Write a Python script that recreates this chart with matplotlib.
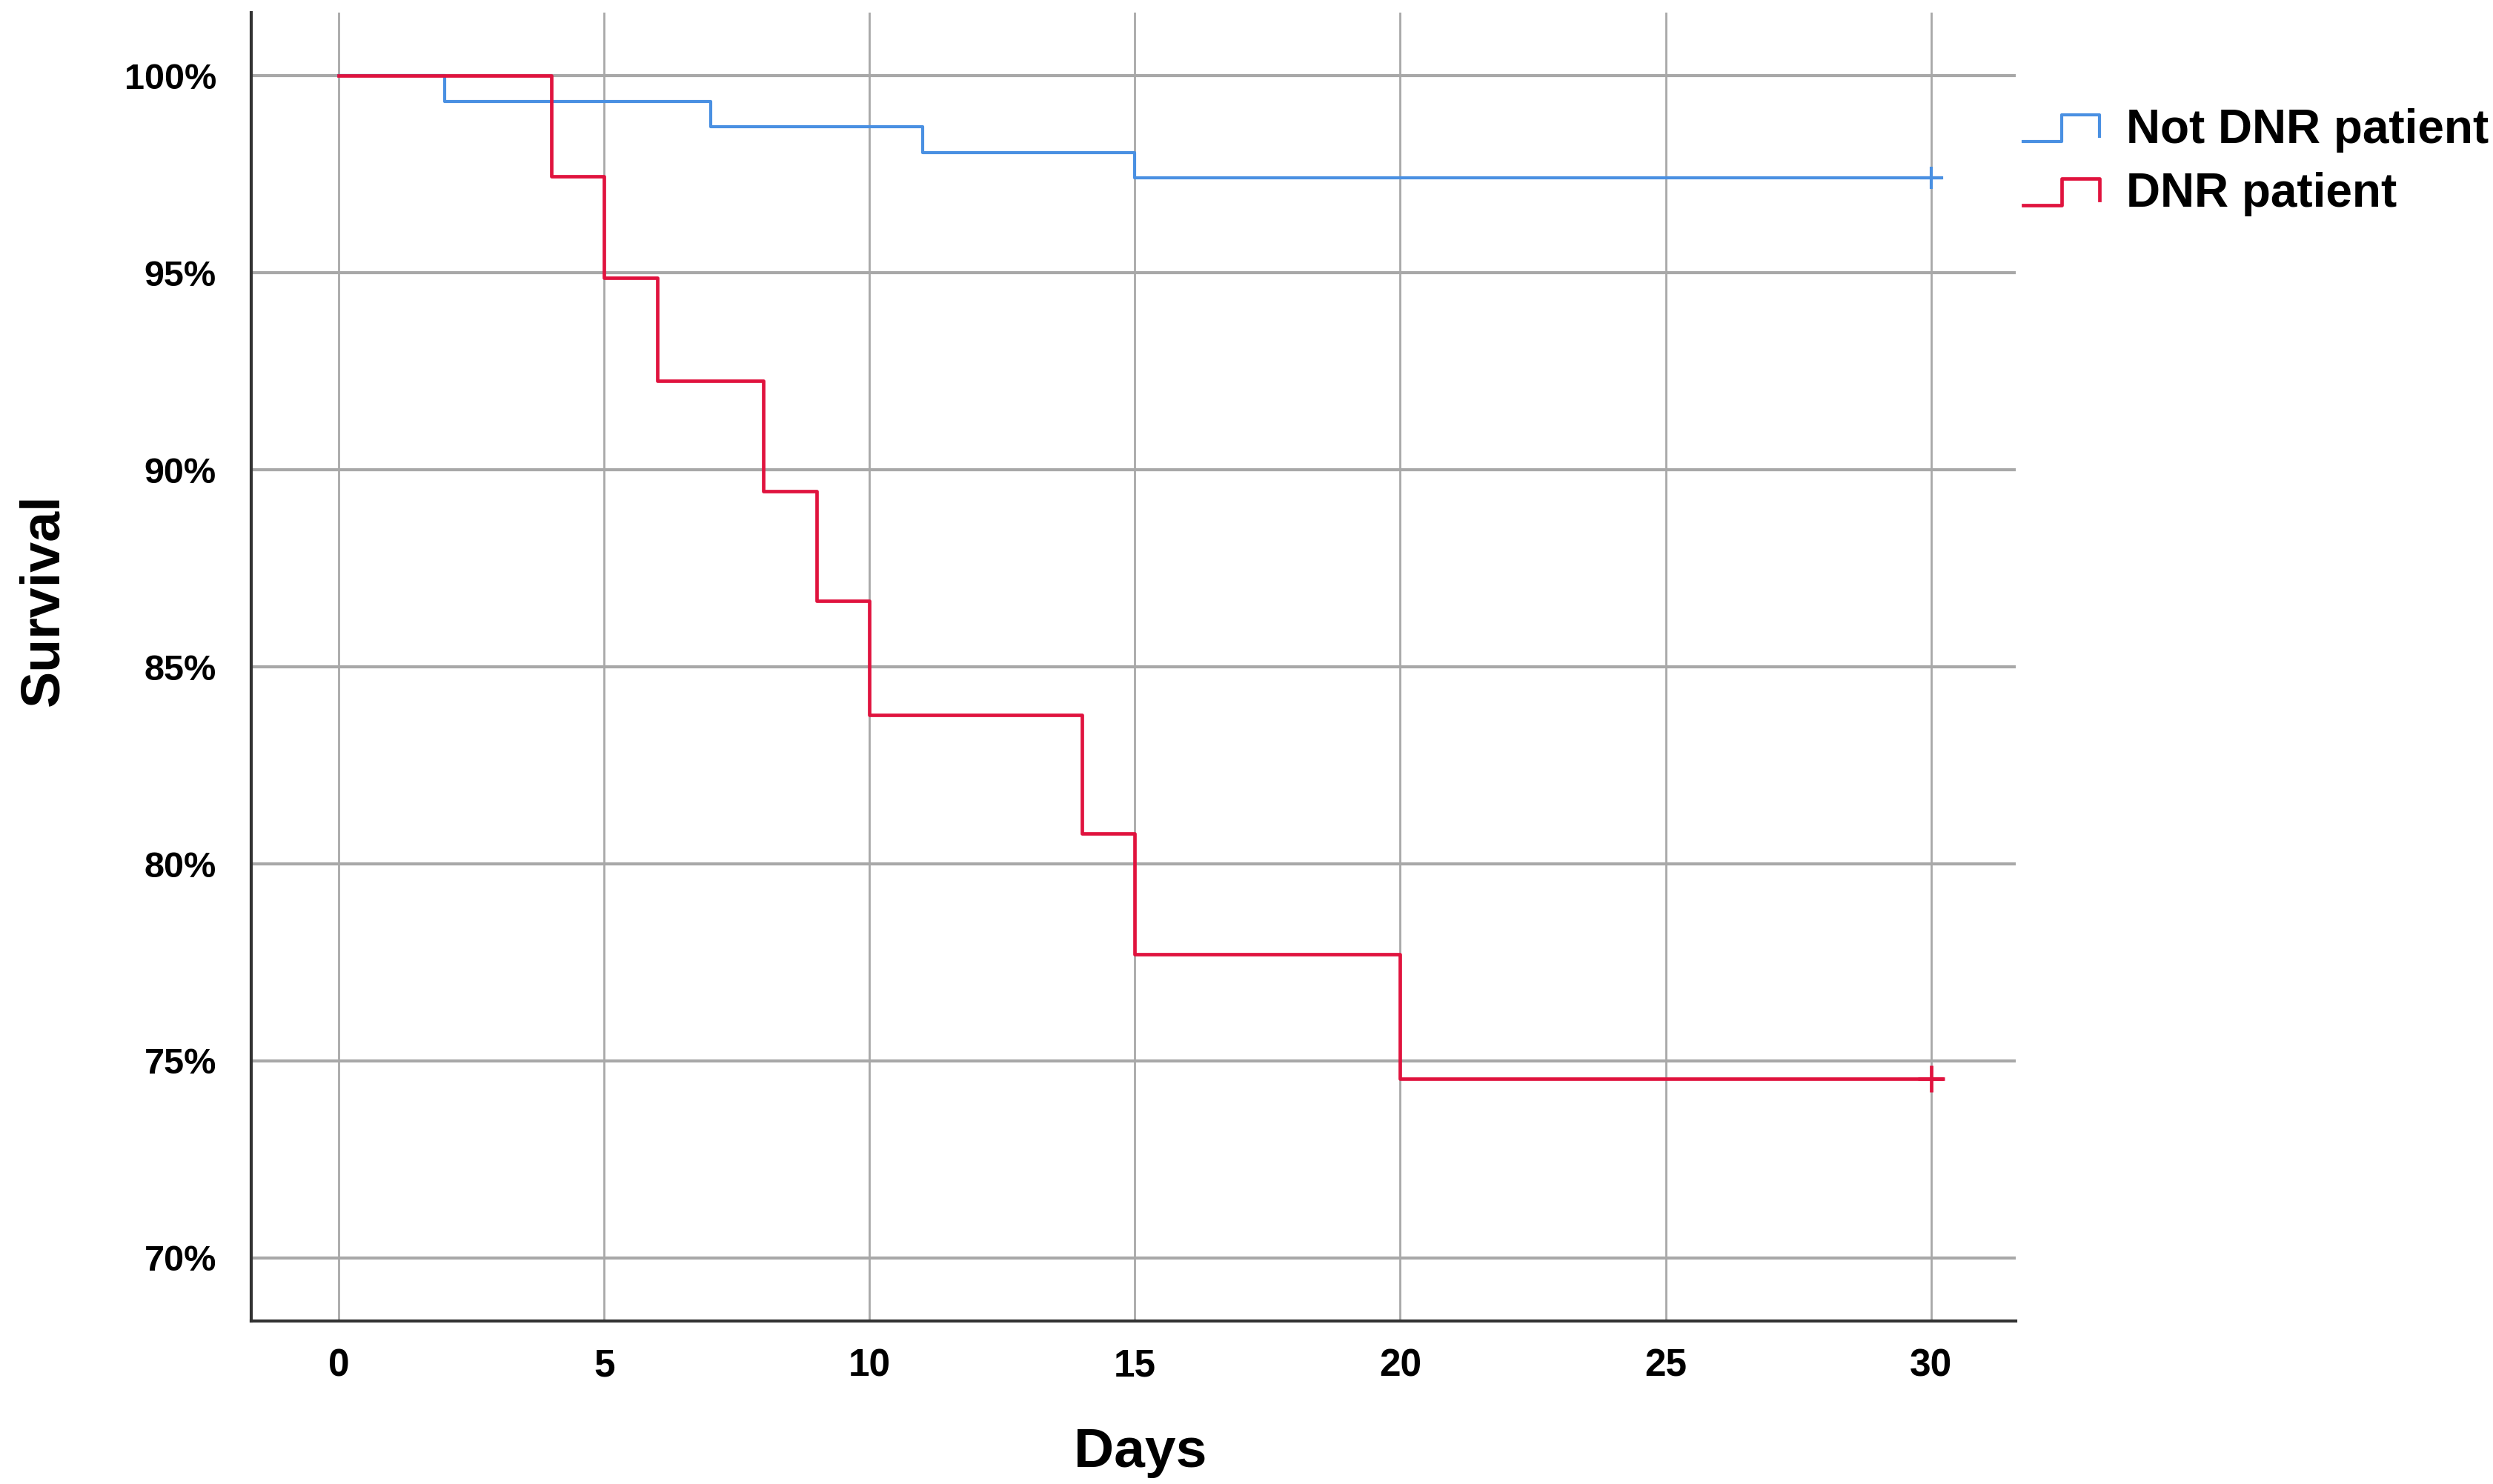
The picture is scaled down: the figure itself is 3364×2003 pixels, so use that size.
import numpy as np
import matplotlib
matplotlib.use("Agg")
import matplotlib.pyplot as plt
from matplotlib.lines import Line2D
from matplotlib.legend_handler import HandlerBase

# ---- data ----
not_dnr_days = [0, 2, 7, 11, 15, 30.2]
not_dnr_surv = [100.0, 99.35, 98.70, 98.05, 97.40, 97.40]
dnr_days = [0, 4, 5, 6, 8, 9, 10, 14, 15, 20, 30.2]
dnr_surv = [100.0, 97.44, 94.87, 92.25, 89.45, 86.68, 83.78, 80.78, 77.70, 74.55, 74.55]
censor_day = 30
x_ticks = [0, 5, 10, 15, 20, 25, 30]
y_ticks = [70, 75, 80, 85, 90, 95, 100]
labels = ["Not DNR patient", "DNR patient"]

BLUE = "#4A90E2"
RED = "#E0133E"

plt.rcParams["font.family"] = ["Liberation Sans", "DejaVu Sans"]

fig = plt.figure(figsize=(33.64, 20.03), dpi=100)
ax = fig.add_axes([0.1008, 0.1098, 0.7078, 0.8817])

l1, = ax.step(not_dnr_days, not_dnr_surv, where="post", color=BLUE, lw=3.0, zorder=3)
l2, = ax.step(dnr_days, dnr_surv, where="post", color=RED, lw=3.4, zorder=3)
ax.plot([censor_day], [not_dnr_surv[-1]], marker="+", ms=22, mew=3, color=BLUE, zorder=4)
ax.plot([censor_day], [dnr_surv[-1]], marker="+", ms=26, mew=3.4, color=RED, zorder=4)

ax.set_xlim(-1.65, 31.6)
ax.set_ylim(68.4, 101.6)
ax.set_xticks(x_ticks)
ax.set_yticks(y_ticks)
ax.set_yticklabels([f"{v}%" for v in y_ticks])

ax.grid(axis="x", color="#a8a8a8", lw=2.0, zorder=1)
ax.grid(axis="y", color="#a8a8a8", lw=3.0, zorder=1)
ax.set_axisbelow(True)

for s in ["top", "right"]:
    ax.spines[s].set_visible(False)
for s in ["left", "bottom"]:
    ax.spines[s].set_color("#333333")
    ax.spines[s].set_linewidth(3.0)

ax.tick_params(axis="y", length=0, labelsize=35, pad=34)
ax.tick_params(axis="x", length=0, labelsize=37, pad=26)
for t in ax.get_xticklabels() + ax.get_yticklabels():
    t.set_fontweight("bold")

fig.text(0.0175, 0.596, "Survival", rotation=90, ha="center", va="center",
         fontsize=53, fontweight="bold")
fig.text(0.4575, 0.021, "Days", ha="center", va="center",
         fontsize=54, fontweight="bold")


class StepHandler(HandlerBase):
    def create_artists(self, legend, orig_handle, xdescent, ydescent,
                       width, height, fontsize, trans):
        xs = np.array([0, 0.5, 0.5, 1.0, 1.0]) * width - xdescent
        ys = np.array([0.05, 0.05, 0.85, 0.85, 0.2]) * height - ydescent
        ln = Line2D(xs, ys, color=orig_handle.get_color(), lw=orig_handle.get_linewidth())
        ln.set_transform(trans)
        return [ln]


leg = fig.legend([l1, l2], labels, loc="upper left", bbox_to_anchor=(0.8115, 0.927),
                 frameon=False, prop={"weight": "bold", "size": 46},
                 handler_map={Line2D: StepHandler()}, handlelength=1.62,
                 handletextpad=0.55, labelspacing=0.4, borderaxespad=0,
                 borderpad=0)

fig.savefig("out.png", dpi=100)
